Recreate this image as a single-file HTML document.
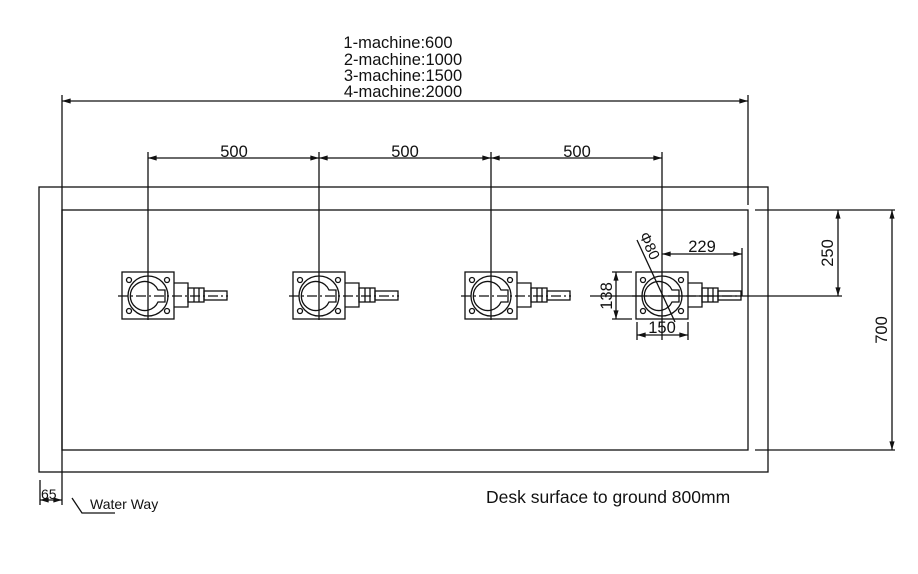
<!DOCTYPE html>
<html><head><meta charset="utf-8"><style>
html,body{margin:0;padding:0;background:#fff}
svg{display:block}
text{font-family:"Liberation Sans",sans-serif;fill:#111}
</style></head><body>
<svg width="918" height="574" viewBox="0 0 918 574" xmlns="http://www.w3.org/2000/svg">
<defs>
<marker id="a" viewBox="0 0 10 6" refX="10" refY="3" markerWidth="8" markerHeight="4" orient="auto-start-reverse"><path d="M0,0 L10,3 L0,6 z" fill="#111"/></marker>
<g id="u" stroke="#111" stroke-width="1.3" fill="none">
<rect x="-26" y="-24" width="52" height="47"/>
<path d="M26,-13 H40 V11 H26"/>
<rect x="40" y="-8" width="16" height="14"/>
<line x1="46" y1="-8" x2="46" y2="6"/><line x1="51" y1="-8" x2="51" y2="6"/>
<rect x="56" y="-5" width="23" height="9"/>
<circle r="20"/>
<path d="M10,-6 A14.5,14.5 0 1 0 10,6 H17 V-6 Z"/>
<circle cx="-19" cy="-16" r="2.5"/><circle cx="19" cy="-16" r="2.5"/>
<circle cx="-19" cy="15" r="2.5"/><circle cx="19" cy="15" r="2.5"/>
<line x1="-30" y1="0" x2="80" y2="0" stroke-dasharray="10,3,2,3"/>
</g>
</defs>
<g stroke="#111" stroke-width="1.3" fill="none">
<rect x="39" y="187" width="729" height="285"/>
<rect x="62" y="210" width="686" height="240"/>
<line x1="62" y1="95" x2="62" y2="505"/>
<line x1="748" y1="95" x2="748" y2="205"/>
<line x1="62" y1="101" x2="748" y2="101" marker-start="url(#a)" marker-end="url(#a)"/>
<line x1="148" y1="152" x2="148" y2="320"/>
<line x1="319" y1="152" x2="319" y2="320"/>
<line x1="491" y1="152" x2="491" y2="320"/>
<line x1="662" y1="152" x2="662" y2="340"/>
<line x1="148" y1="158" x2="319" y2="158" marker-start="url(#a)" marker-end="url(#a)"/>
<line x1="319" y1="158" x2="491" y2="158" marker-start="url(#a)" marker-end="url(#a)"/>
<line x1="491" y1="158" x2="662" y2="158" marker-start="url(#a)" marker-end="url(#a)"/>
<line x1="755" y1="210" x2="895" y2="210"/>
<line x1="755" y1="450" x2="895" y2="450"/>
<line x1="590" y1="296" x2="842" y2="296"/>
<line x1="838" y1="210" x2="838" y2="296" marker-start="url(#a)" marker-end="url(#a)"/>
<line x1="892" y1="210" x2="892" y2="450" marker-start="url(#a)" marker-end="url(#a)"/>
<line x1="612" y1="272" x2="632" y2="272"/><line x1="612" y1="319" x2="632" y2="319"/>
<line x1="616" y1="272" x2="616" y2="319" marker-start="url(#a)" marker-end="url(#a)"/>
<line x1="637" y1="322" x2="637" y2="340"/><line x1="688" y1="322" x2="688" y2="340"/>
<line x1="637" y1="335" x2="688" y2="335" marker-start="url(#a)" marker-end="url(#a)"/>
<line x1="742" y1="248" x2="742" y2="296"/>
<line x1="662" y1="254" x2="742" y2="254" marker-start="url(#a)" marker-end="url(#a)"/>
<line x1="637" y1="240" x2="675" y2="322"/>
<line x1="40" y1="480" x2="40" y2="505"/>
<line x1="40" y1="500" x2="62" y2="500" marker-start="url(#a)" marker-end="url(#a)"/>
<polyline points="72,498 82,513 115,513"/>
</g>
<use href="#u" x="148" y="296"/>
<use href="#u" x="319" y="296"/>
<use href="#u" x="491" y="296"/>
<use href="#u" x="662" y="296"/>
<g font-size="16.5" text-anchor="middle">
<text x="398" y="48">1-machine:600</text>
<text x="403" y="65">2-machine:1000</text>
<text x="403" y="81">3-machine:1500</text>
<text x="403" y="97">4-machine:2000</text>
<text x="234" y="157">500</text>
<text x="405" y="157">500</text>
<text x="577" y="157">500</text>
<text x="702" y="252">229</text>
<text x="662" y="333">150</text>
<text transform="translate(612,296) rotate(-90)">138</text>
<text transform="translate(833,253) rotate(-90)">250</text>
<text transform="translate(887,330) rotate(-90)">700</text>
<text transform="translate(645,248) rotate(65)" font-size="15">Φ80</text>
</g>
<text x="41" y="499" font-size="14">65</text>
<text x="90" y="509" font-size="14">Water Way</text>
<text x="486" y="503" font-size="17.5">Desk surface to ground 800mm</text>
</svg>
</body></html>
